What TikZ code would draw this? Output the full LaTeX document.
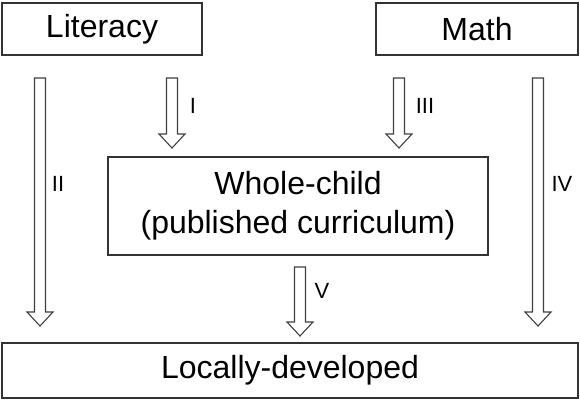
\documentclass[tikz,border=0pt]{standalone}
\usepackage{fontspec}
\setmainfont{Liberation Sans}
\begin{document}
\begin{tikzpicture}[x=1pt,y=-1pt,
  box/.style={draw=black!80,line width=1.4pt,rectangle,inner sep=0pt,font=\fontsize{32}{39}\selectfont,align=center},
  lab/.style={font=\fontsize{22}{26}\selectfont,inner sep=0pt},
  fatarrow/.style={draw=black!75,line width=1.1pt,fill=white,line join=miter}]
\useasboundingbox (0,0) rectangle (580,400);
\node[box,minimum width=200,minimum height=52] (lit) at (102,29) {Literacy};
\node[box,minimum width=202,minimum height=52] (math) at (477,29) {Math};
\node[box,minimum width=380,minimum height=98] (whole) at (298,206) {Whole-child\\(published curriculum)};
\node[box,minimum width=576,minimum height=55] (local) at (290,370.5) {Locally-developed};
\newcommand\fatarr[5]{%
  \draw[fatarrow] (#1-5.5,#2) -- (#1+5.5,#2) -- (#1+5.5,#3-14) -- (#1+13,#3-14) -- (#1,#3) -- (#1-13,#3-14) -- (#1-5.5,#3-14) -- cycle;
  \node[lab] at (#5) {#4};}
\fatarr{40}{78}{326}{II}{58,184}
\fatarr{172}{78}{148}{I}{193,106}
\fatarr{399}{78}{148}{III}{425,106}
\fatarr{538}{78}{326}{IV}{562,184}
\fatarr{300}{267}{336}{V}{322,291}
\end{tikzpicture}
\end{document}
